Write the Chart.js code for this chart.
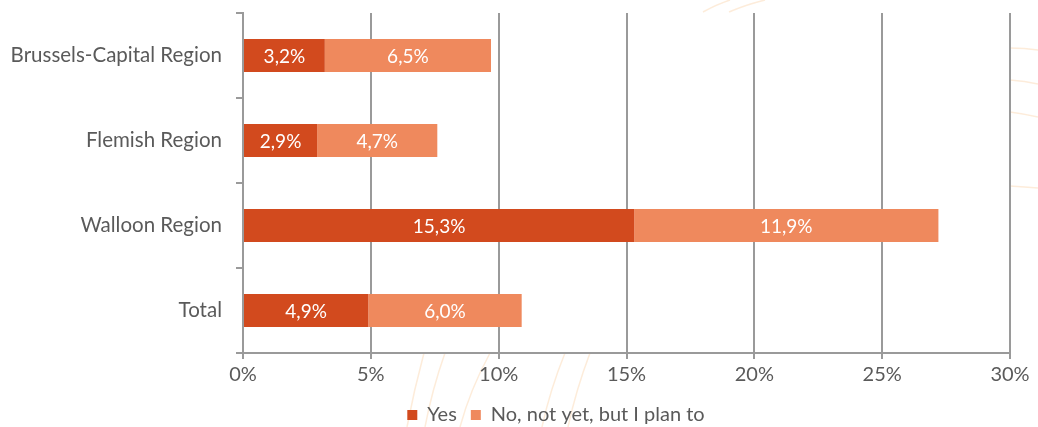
<!DOCTYPE html>
<html>
<head>
<meta charset="utf-8">
<script src="https://cdn.jsdelivr.net/npm/chart.js@4"></script>
<style>
  html, body { margin: 0; padding: 0; background: #fff; }
  #wrap { width: 1038px; height: 427px; position: relative; }
</style>
</head>
<body>
<div id="wrap"><canvas id="chart"></canvas></div>
<script>
// Share of respondents per region
const regions = ['Brussels-Capital Region', 'Flemish Region', 'Walloon Region', 'Total'];
const yesValues = [3.2, 2.9, 15.3, 4.9];
const planValues = [6.5, 4.7, 11.9, 6.0];
const seriesNames = ['Yes', 'No, not yet, but I plan to'];

const FONT = 'Lato, "Open Sans", sans-serif';
const TEXT_COLOR = '#5a5a5a';
const GRID_COLOR = '#9a9a9a';
const LEGEND_SHIFT = 45;

const fmt = v => v.toFixed(1).replace('.', ',') + '%';

// Faint sunburst strokes of the page background, hidden behind the plot area
const backdrop = {
    id: 'backdrop',
    beforeDraw(chart) {
        const ctx = chart.ctx;
        const area = chart.chartArea;
        const strokes = [
            [703, 12, 715, 5, 730, 0], [729, 12, 745, 5, 765, 0],
            [1010, 48, 1025, 48, 1038, 50], [1010, 80, 1025, 81, 1038, 84],
            [1010, 112, 1025, 114, 1038, 117], [1010, 186, 1025, 187, 1038, 188],
            [424, 353, 414, 390, 407, 427], [445, 353, 432, 390, 425, 427],
            [490, 353, 470, 390, 460, 427], [565, 353, 550, 390, 542, 427],
            [590, 353, 576, 390, 568, 427]
        ];
        ctx.save();
        ctx.strokeStyle = 'rgba(250, 200, 150, 0.35)';
        ctx.lineWidth = 1.5;
        strokes.forEach(([x0, y0, cx, cy, x1, y1]) => {
            ctx.beginPath();
            ctx.moveTo(x0, y0);
            ctx.quadraticCurveTo(cx, cy, x1, y1);
            ctx.stroke();
        });
        ctx.fillStyle = '#ffffff';
        ctx.fillRect(area.left, area.top, area.right - area.left, area.bottom - area.top);
        ctx.restore();
    }
};

// Legend sits a bit right of the canvas centre
const legendOffset = {
    id: 'legendOffset',
    afterLayout(chart) {
        const legend = chart.legend;
        if (!legend) return;
        legend.left += LEGEND_SHIFT;
        legend.right += LEGEND_SHIFT;
    }
};

// White value labels centred in each bar segment
const segmentLabels = {
    id: 'segmentLabels',
    afterDatasetsDraw(chart) {
        const ctx = chart.ctx;
        ctx.save();
        ctx.fillStyle = '#ffffff';
        ctx.font = '19px ' + FONT;
        ctx.textAlign = 'center';
        ctx.textBaseline = 'middle';
        chart.data.datasets.forEach((ds, i) => {
            chart.getDatasetMeta(i).data.forEach((bar, j) => {
                const left = Math.min(bar.x, bar.base);
                const right = Math.max(bar.x, bar.base);
                ctx.fillText(fmt(ds.data[j]), (left + right) / 2, bar.y + 1);
            });
        });
        ctx.restore();
    }
};

new Chart(document.getElementById('chart'), {
    type: 'bar',
    data: {
        labels: regions,
        datasets: [
            {
                label: seriesNames[0],
                data: yesValues,
                backgroundColor: '#d24a1e',
                barPercentage: 0.39,
                categoryPercentage: 1
            },
            {
                label: seriesNames[1],
                data: planValues,
                backgroundColor: '#ef895d',
                barPercentage: 0.39,
                categoryPercentage: 1
            }
        ]
    },
    options: {
        indexAxis: 'y',
        responsive: true,
        maintainAspectRatio: false,
        animation: false,
        layout: {
            padding: { top: 13, left: 12, right: 28, bottom: -8 }
        },
        plugins: {
            legend: {
                position: 'bottom',
                labels: {
                    font: { family: FONT, size: 20, lineHeight: 1 },
                    color: TEXT_COLOR,
                    boxWidth: 10,
                    boxHeight: 10,
                    padding: 14
                }
            },
            tooltip: { enabled: false }
        },
        scales: {
            x: {
                stacked: true,
                min: 0,
                max: 30,
                ticks: {
                    stepSize: 5,
                    color: TEXT_COLOR,
                    font: { family: FONT, size: 20 },
                    padding: 4,
                    callback: v => v + '%'
                },
                grid: {
                    color: GRID_COLOR,
                    lineWidth: 2,
                    tickLength: 6
                },
                border: { color: GRID_COLOR, width: 2 }
            },
            y: {
                stacked: true,
                ticks: {
                    color: TEXT_COLOR,
                    font: { family: FONT, size: 20.5 },
                    padding: 14
                },
                grid: {
                    color: GRID_COLOR,
                    lineWidth: 2,
                    drawOnChartArea: false,
                    tickLength: 7
                },
                border: { color: GRID_COLOR, width: 2 },
                afterFit(scale) {
                    scale.width = 231;
                    scale.paddingTop = 0;
                    scale.paddingBottom = 0;
                }
            }
        }
    },
    plugins: [backdrop, legendOffset, segmentLabels]
});
</script>
</body>
</html>
